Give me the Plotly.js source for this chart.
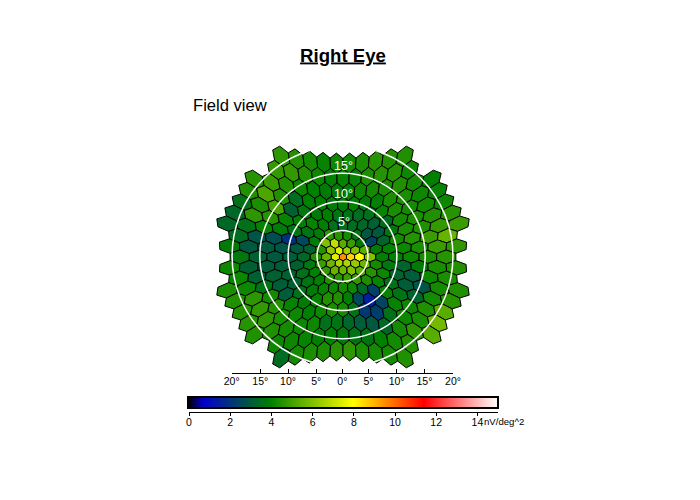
<!DOCTYPE html><html><head><meta charset="utf-8"><script src="https://cdn.plot.ly/plotly-3.0.1.min.js"></script></head><body style="margin:0;background:#fff"><div id="c" style="width:700px;height:500px"></div><script>
// response density per hexagon, nV/deg^2, rows top to bottom, left to right
const rowP9=[4.7,4.5,4.3,4.1,4.2,4.3,4.4,4.6,4.5,4.5];
const rowP8=[4.8,4.8,4.5,4.2,4.0,4.1,4.1,4.4,4.6,4.6,4.2];
const rowP7=[4.6,4.9,4.5,4.2,4.0,3.9,3.9,4.0,4.2,4.3,4.4,4.5,4.3,4.0];
const rowP6=[4.5,5.2,4.5,3.5,4.0,4.0,3.9,3.9,4.0,3.9,4.0,4.4,4.4,4.2,4.1];
const rowP5=[3.6,4.4,5.1,3.2,3.8,3.9,4.0,3.7,3.6,3.5,3.6,4.1,4.4,4.3,4.3,4.2];
const rowP4=[3.4,4.7,4.6,4.1,4.0,4.1,4.0,3.6,3.5,3.5,3.4,3.2,3.5,4.3,4.4,4.5,4.6];
const rowP3=[3.4,3.6,4.1,3.9,3.7,3.7,3.9,4.7,4.6,4.3,3.8,3.0,3.0,3.7,4.4,4.5,4.8,4.9];
const rowP2=[3.5,2.9,2.7,2.0,2.6,3.9,6.0,7.0,5.4,4.9,3.9,2.4,3.3,4.3,4.6,4.9,5.6];
const rowP1=[3.9,3.0,3.0,2.9,3.0,3.2,4.6,6.3,7.5,6.5,6.0,5.4,3.9,4.0,4.2,4.4,4.9,4.7];
const row0=[3.8,3.2,3.0,3.1,3.4,4.5,5.6,7.5,9.5,8.6,8.0,6.0,4.0,4.0,4.2,4.4,4.6];
const rowM1=[4.2,3.2,3.1,3.1,3.2,3.8,4.9,5.7,6.7,6.7,6.3,5.7,4.3,3.8,3.3,3.9,4.4,4.5];
const rowM2=[4.2,3.2,3.2,3.2,3.6,4.0,4.8,5.6,5.7,6.0,5.4,4.6,4.2,3.3,3.1,4.2,4.4];
const rowM3=[4.4,4.2,3.7,3.1,3.2,3.7,4.0,4.5,4.6,4.9,4.8,4.4,4.1,3.6,3.1,2.9,4.3,4.5];
const rowM4=[4.5,4.7,4.3,3.1,3.6,3.9,4.1,4.2,4.3,4.2,3.4,2.4,4.1,3.7,3.3,4.3,4.6];
const rowM5=[4.6,4.8,4.5,4.1,3.9,4.1,4.5,4.5,4.0,2.6,1.5,2.5,4.1,4.2,4.5,5.4];
const rowM6=[4.6,4.7,4.4,4.2,4.0,4.2,4.4,4.3,3.7,2.2,2.3,3.6,4.2,4.4,5.8];
const rowM7=[4.5,4.5,4.3,4.2,4.2,3.6,3.7,3.4,3.1,3.0,3.4,4.3,4.7,5.4];
const rowM8=[4.2,4.2,4.1,4.0,4.0,3.9,3.7,3.7,4.0,4.3,4.5];
const rowM9=[3.5,4.3,4.4,4.4,4.6,4.7,4.4,4.3,4.3,4.5];
const hexRows=[rowP9,rowP8,rowP7,rowP6,rowP5,rowP4,rowP3,rowP2,rowP1,row0,rowM1,rowM2,rowM3,rowM4,rowM5,rowM6,rowM7,rowM8,rowM9];
const axisTickDeg=[-19.95,-14.8,-9.8,-4.7,0,4.7,9.8,14.8,19.95];
const axisTickText=['20°','15°','10°','5°','0°','5°','10°','15°','20°'];
const circleDeg=[4.6,9.8,14.9,19.9];
const ringLabels=['5°','10°','15°'];
const ringLabelDeg=[6.1,11.2,16.2];
const barTicks=[0,2,4,6,8,10,12,14];
const barTickText=['0','2','4','6','8','10','12','14'];
const scaleStops=[[0,[0,0,0]],[0.75,[0,0,205]],[4,[0,128,0]],[8,[255,255,0]],[11.4,[255,0,0]],[15,[255,255,255]]];
const vMax=15;

const a=6.43,b=0.767,S=5.55,h=Math.sqrt(3)/2,kx=1.025,ky=0.965;
function warp(x,y){const d=Math.hypot(x,y);if(d==0)return[0.09,-0.18];const r=(a*d+b*d*d)/S;return[kx*x/d*r+0.09,ky*y/d*r-0.18];}
function colorOf(v){for(let i=1;i<scaleStops.length;i++){const [v0,c0]=scaleStops[i-1],[v1,c1]=scaleStops[i];if(v<=v1){const t=(v-v0)/(v1-v0);return 'rgb('+c0.map((c,k)=>Math.round(c+(c1[k]-c)*t)).join(',')+')';}}return '#fff';}
const traces=[];
hexRows.forEach((vals,ri)=>{const r=9-ri;vals.forEach((v,i)=>{
 const cx=i-(vals.length-1)/2,cy=r*h,xs=[],ys=[];
 for(let k=0;k<=6;k++){const t=Math.PI/6+k*Math.PI/3;const p=warp(cx+Math.cos(t)/Math.sqrt(3),cy+Math.sin(t)/Math.sqrt(3));xs.push(p[0]);ys.push(p[1]);}
 traces.push({x:xs,y:ys,mode:'lines',fill:'toself',fillcolor:colorOf(v),line:{color:'#000',width:1},hoverinfo:'skip',showlegend:false});
});});
traces.push({x:[],y:[],xaxis:'x2',yaxis:'y2',showlegend:false});
traces.push({x:[0],y:[0],xaxis:'x3',yaxis:'y3',mode:'markers',showlegend:false,marker:{size:0.01,opacity:0,color:[0],cmin:0,cmax:vMax,
 colorscale:scaleStops.map(s=>[s[0]/vMax,'rgb('+s[1].join(',')+')']),showscale:true,
 colorbar:{orientation:'h',thickness:11,thicknessmode:'pixels',len:310,lenmode:'pixels',x:343/700,xanchor:'center',y:90/500,yanchor:'bottom',xpad:0,ypad:0,outlinewidth:2,outlinecolor:'#000',ticks:'',showticklabels:false,borderwidth:0}}});
const shapes=circleDeg.map(R=>({type:'circle',xref:'x',yref:'y',x0:-R,x1:R,y0:-R,y1:R,line:{color:'#fff',width:1.5}}));
const ann=ringLabels.map((t,i)=>({text:t,x:0.2,y:ringLabelDeg[i],xref:'x',yref:'y',showarrow:false,font:{family:'Liberation Sans',size:12.5,color:'#fff'}}));
ann.push({text:'Field view',x:191/700,y:1-106/500,xref:'paper',yref:'paper',xanchor:'left',yanchor:'middle',showarrow:false,font:{family:'Liberation Sans',size:16.6,color:'#000'}});
ann.push({text:'nV/deg^2',x:482/700,y:1-421/500,xref:'paper',yref:'paper',xanchor:'left',yanchor:'middle',showarrow:false,font:{family:'Liberation Sans',size:9.6,color:'#000'}});
Plotly.newPlot('c',traces,{width:700,height:500,margin:{l:0,r:0,t:0,b:0,pad:0},paper_bgcolor:'#fff',plot_bgcolor:'rgba(0,0,0,0)',shapes,annotations:ann,showlegend:false,
title:{text:'Right Eye',x:343/700,xanchor:'center',y:1-55/500,yanchor:'middle',font:{family:'Liberation Sans',size:18.6,weight:'bold',lineposition:'under',color:'#000'}},
xaxis:{range:[-342.5/S,357.5/S],visible:false},
yaxis:{range:[-244/S,256/S],visible:false},
xaxis2:{domain:[231.7/700,453/700],anchor:'y2',range:[-19.95,19.95],tickvals:axisTickDeg,ticktext:axisTickText,showgrid:false,zeroline:false,showline:true,linecolor:'#000',linewidth:1,ticks:'inside',tickcolor:'#000',ticklen:4,ticklabelstandoff:-2,tickfont:{size:10.5,family:'Liberation Sans',color:'#000'}},
yaxis2:{domain:[127/500,0.4],anchor:'x2',visible:false},
xaxis3:{domain:[189/700,498/700],anchor:'y3',range:[0,vMax],tickvals:barTicks,ticktext:barTickText,showgrid:false,zeroline:false,showline:true,linecolor:'#000',linewidth:1,ticks:'outside',tickcolor:'#000',ticklen:3,ticklabelstandoff:-3,tickfont:{size:10.5,family:'Liberation Sans',color:'#000'}},
yaxis3:{domain:[88/500,0.2],anchor:'x3',visible:false}},{staticPlot:true});
</script></body></html>
